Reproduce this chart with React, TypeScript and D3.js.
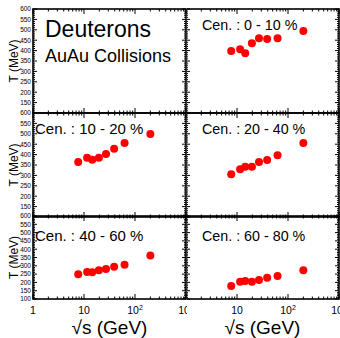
import React from 'react';
import * as d3 from 'd3';

// beam energies (GeV) shared by every centrality class
const energies = [7.7, 11.5, 14.5, 19.6, 27, 39, 62.4, 200];

// kinetic temperature T (MeV)
const cen0_10 = [398, 406, 387, 435, 459, 456, 459, 494];
const cen10_20 = [364, 385, 375, 385, 403, 428, 456, 499];
const cen20_40 = [305, 329, 342, 342, 364, 374, 397, 456];
const cen40_60 = [249, 263, 261, 273, 281, 295, 307, 362];
const cen60_80 = [178, 204, 208, 204, 214, 228, 239, 273];

const panelLabels = ['Cen. : 0 - 10 %', 'Cen. : 10 - 20 %', 'Cen. : 20 - 40 %', 'Cen. : 40 - 60 %', 'Cen. : 60 - 80 %'];
const xTickLabels = ['1', '10', '10', '10'];
const xTickSups = ['', '', '2', '3'];

const FONT = '"Liberation Sans", Arial, Helvetica, sans-serif';

const cols = [
  { x0: 33, x1: 186, padX0: 0, padX1: 187 },
  { x0: 186, x1: 339, padX0: 187, padX1: 340 },
];
const rows = [
  { y0: 9, y1: 113 },
  { y0: 113, y1: 217 },
  { y0: 216, y1: 299 },
];

interface Panel {
  row: number;
  col: number;
  values: number[] | null;
  label: string;
}

const panels: Panel[] = [
  { row: 0, col: 0, values: null, label: '' },
  { row: 0, col: 1, values: cen0_10, label: panelLabels[0] },
  { row: 1, col: 0, values: cen10_20, label: panelLabels[1] },
  { row: 1, col: 1, values: cen20_40, label: panelLabels[2] },
  { row: 2, col: 0, values: cen40_60, label: panelLabels[3] },
  { row: 2, col: 1, values: cen60_80, label: panelLabels[4] },
];

const majorX = [1, 10, 100, 1000];
const minorX = [1, 10, 100].flatMap(d => d3.range(2, 10).map(k => d * k));
const majorY = d3.range(100, 601, 50);
const minorY = d3.range(100, 601, 10);

const PanelView: React.FC<{ p: Panel; idx: number }> = ({ p, idx }) => {
  const c = cols[p.col];
  const r = rows[p.row];
  const x = d3.scaleLog().domain([1, 1000]).range([c.x0, c.x1]);
  const y = d3.scaleLinear().domain([100, 600]).range([r.y1, r.y0]);
  const bottom = p.row === 2;
  const clipId = `pad-${idx}`;
  const yLabels = bottom ? majorY : majorY.filter(v => v > 100);

  return (
    <g>
      <defs>
        <clipPath id={clipId}>
          <rect x={c.padX0} y={0} width={c.padX1 - c.padX0} height={338} />
        </clipPath>
      </defs>
      <g clipPath={`url(#${clipId})`}>
        {/* x ticks, bottom and top */}
        {majorX.map(v => (
          <g key={'mx' + v}>
            <line x1={x(v)} x2={x(v)} y1={r.y1} y2={r.y1 - 5} stroke="#000" />
            <line x1={x(v)} x2={x(v)} y1={r.y0} y2={r.y0 + 5} stroke="#000" />
          </g>
        ))}
        {minorX.map(v => (
          <g key={'nx' + v}>
            <line x1={x(v)} x2={x(v)} y1={r.y1} y2={r.y1 - 2.5} stroke="#000" />
            <line x1={x(v)} x2={x(v)} y1={r.y0} y2={r.y0 + 2.5} stroke="#000" />
          </g>
        ))}
        {/* y ticks, left and right */}
        {minorY.map(v => {
          const len = v % 50 === 0 ? 4 : 2;
          return (
            <g key={'y' + v}>
              <line x1={c.x0} x2={c.x0 + len} y1={y(v)} y2={y(v)} stroke="#000" />
              <line x1={c.x1} x2={c.x1 - len} y1={y(v)} y2={y(v)} stroke="#000" />
            </g>
          );
        })}
        <rect x={c.x0} y={r.y0} width={c.x1 - c.x0} height={r.y1 - r.y0} fill="none" stroke="#000" strokeWidth={1.6} />

        {p.col === 0 &&
          yLabels.map(v => (
            <text key={'yl' + v} x={c.x0 - 2} y={y(v) + 2.3} fontSize={6.5} textAnchor="end" fill="#000" fontFamily={FONT}>
              {v}
            </text>
          ))}
        {p.col === 0 && (
          <text
            transform={`translate(18,${(r.y0 + r.y1) / 2}) rotate(-90)`}
            fontSize={12}
            textAnchor="middle"
            fill="#000"
            fontFamily={FONT}
          >
            T (MeV)
          </text>
        )}

        {bottom &&
          majorX.map((v, i) =>
            p.col === 1 && i === 0 ? null : (
              <text key={'xl' + v} x={x(v)} y={314} fontSize={10.5} textAnchor="middle" fill="#000" fontFamily={FONT}>
                {xTickLabels[i]}
                {xTickSups[i] && (
                  <tspan fontSize={7} dy={-4}>
                    {xTickSups[i]}
                  </tspan>
                )}
              </text>
            )
          )}
        {bottom && (
          <text x={(c.x0 + c.x1) / 2} y={334} fontSize={19} textAnchor="middle" fill="#000" fontFamily={FONT}>
            √s (GeV)
          </text>
        )}

        {p.values &&
          p.values.map((v, i) => (
            <circle key={'pt' + i} cx={x(energies[i])} cy={y(v)} r={4} fill="#ff0000" />
          ))}
        {p.label && (
          <text
            x={p.col === 0 ? c.x0 + 2 : c.x0 + 16}
            y={r.y0 + (p.row === 2 ? 25 : 21)}
            fontSize={p.col === 0 ? 15 : 14.3}
            fill="#000"
            fontFamily={FONT}
          >
            {p.label}
          </text>
        )}
        {!p.values && (
          <g>
            <text x={45} y={37} fontSize={23} fill="#000" fontFamily={FONT}>
              Deuterons
            </text>
            <text x={45} y={62} fontSize={18} fill="#000" fontFamily={FONT}>
              AuAu Collisions
            </text>
          </g>
        )}
      </g>
    </g>
  );
};

export default function App() {
  return (
    <svg
      width={340}
      height={338}
      style={{ position: 'fixed', left: 0, top: 0, background: '#fff' }}
    >
      <rect width={340} height={338} fill="#fff" />
      {panels.map((p, i) => (
        <PanelView key={i} p={p} idx={i} />
      ))}
    </svg>
  );
}
